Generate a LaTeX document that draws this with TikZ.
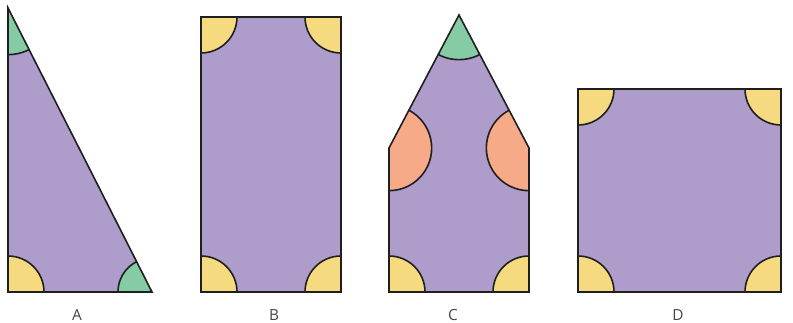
\documentclass[tikz,border=0pt]{standalone}
\usepackage{fontspec}
\setsansfont{Open Sans}
\definecolor{shapepurple}{RGB}{174,156,203}
\definecolor{angyellow}{RGB}{245,218,128}
\definecolor{anggreen}{RGB}{133,203,164}
\definecolor{angorange}{RGB}{247,170,136}
\definecolor{labelgray}{RGB}{70,70,70}
\tikzset{
  outline/.style={draw=black!88, line width=1.2pt, line join=miter},
  angmark/.style={fill=#1, draw=black!88, line width=1.2pt},
  shapelabel/.style={text=labelgray, font=\sffamily\fontsize{11.5}{13}\selectfont, inner sep=0pt, anchor=base},
}
\begin{document}
\begin{tikzpicture}[x=0.75pt,y=-0.75pt]
    \useasboundingbox (0,0) rectangle (793,323);
    \def\ryel{27pt}

    % Shape A: right triangle
    \coordinate (a1) at (8,8);
    \coordinate (a2) at (8,292);
    \coordinate (a3) at (152,292);
    \fill[shapepurple] (a1) -- (a2) -- (a3) -- cycle;
    \begin{scope}
        \clip (a1) -- (a2) -- (a3) -- cycle;
        \filldraw[angmark=anggreen] (a1) circle (35pt);
        \filldraw[angmark=angyellow] (a2) circle (\ryel);
        \filldraw[angmark=anggreen] (a3) circle (25.5pt);
    \end{scope}
    \draw[outline] (a1) -- (a2) -- (a3) -- cycle;
    \node[shapelabel] (labA) at (77,321) {A};

    % Shape B: rectangle
    \coordinate (b1) at (201,17);
    \coordinate (b2) at (201,292);
    \coordinate (b3) at (341,292);
    \coordinate (b4) at (341,17);
    \fill[shapepurple] (b1) -- (b2) -- (b3) -- (b4) -- cycle;
    \begin{scope}
        \clip (b1) -- (b2) -- (b3) -- (b4) -- cycle;
        \foreach \v in {b1,b2,b3,b4}
            \filldraw[angmark=angyellow] (\v) circle (\ryel);
    \end{scope}
    \draw[outline] (b1) -- (b2) -- (b3) -- (b4) -- cycle;
    \node[shapelabel] (labB) at (274,321) {B};

    % Shape C: pentagon
    \coordinate (c1) at (459,15);
    \coordinate (c2) at (389,148);
    \coordinate (c3) at (389,292);
    \coordinate (c4) at (529,292);
    \coordinate (c5) at (529,148);
    \fill[shapepurple] (c1) -- (c2) -- (c3) -- (c4) -- (c5) -- cycle;
    \begin{scope}
        \clip (c1) -- (c2) -- (c3) -- (c4) -- (c5) -- cycle;
        \filldraw[angmark=anggreen] (c1) circle (33.5pt);
        \filldraw[angmark=angorange] (c2) circle (32pt);
        \filldraw[angmark=angorange] (c5) circle (32pt);
        \filldraw[angmark=angyellow] (c3) circle (\ryel);
        \filldraw[angmark=angyellow] (c4) circle (\ryel);
    \end{scope}
    \draw[outline] (c1) -- (c2) -- (c3) -- (c4) -- (c5) -- cycle;
    \node[shapelabel] (labC) at (453,321) {C};

    % Shape D: square
    \coordinate (d1) at (578,89);
    \coordinate (d2) at (578,292);
    \coordinate (d3) at (781,292);
    \coordinate (d4) at (781,89);
    \fill[shapepurple] (d1) -- (d2) -- (d3) -- (d4) -- cycle;
    \begin{scope}
        \clip (d1) -- (d2) -- (d3) -- (d4) -- cycle;
        \foreach \v in {d1,d2,d3,d4}
            \filldraw[angmark=angyellow] (\v) circle (\ryel);
    \end{scope}
    \draw[outline] (d1) -- (d2) -- (d3) -- (d4) -- cycle;
    \node[shapelabel] (labD) at (678,321) {D};
\end{tikzpicture}
\end{document}
